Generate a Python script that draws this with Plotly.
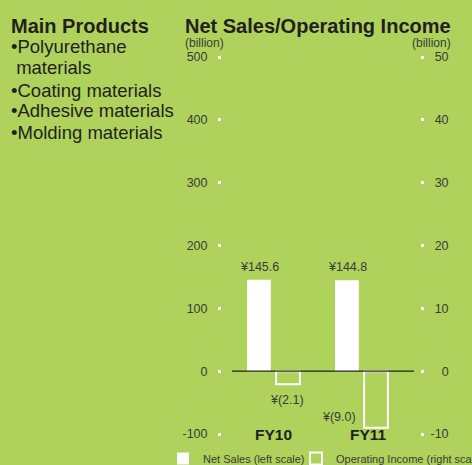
import plotly.graph_objects as go

# ---- data ----
categories = ["FY10", "FY11"]
net_sales = [145.6, 144.8]          # left scale (billion yen)
operating_income = [-2.1, -9.0]     # right scale (billion yen)
left_ticks = [-100, 0, 100, 200, 300, 400, 500]
right_ticks = [-10, 0, 10, 20, 30, 40, 50]
products_title = "Main Products"
products = ["•Polyurethane", "\u00a0materials", "•Coating materials",
            "•Adhesive materials", "•Molding materials"]
chart_title = "Net Sales/Operating Income"
unit_label = "(billion)"
series_names = ["Net Sales (left scale)", "Operating Income (right scale)"]

# ---- layout geometry (pixels) ----
FW, FH = 472, 465
L, R, T, B = 222, 420, 57, 434
PW, PH = R - L, B - T


def fx(px):
    return (px - L) / PW


def fy(py):
    return (B - py) / PH


BG = "#AED25C"
DARK = "#231F20"
GREY = "#3A3A3A"
FONT = "Liberation Sans, Arial, Helvetica, sans-serif"

# tick texts (plain hyphen minus); right labels padded invisibly to right-align
left_text = [str(v) for v in left_ticks]
r_labels = [str(v) for v in right_ticks]
widest = max(r_labels, key=len)
right_text = [f'<span style="color:{BG}">{widest[:len(widest) - len(s)]}</span>{s}'
              if len(s) < len(widest) else s for s in r_labels]

fig = go.Figure()

fig.add_trace(go.Bar(
    x=categories, y=net_sales, name=series_names[0],
    offset=-0.30, width=0.27,
    marker=dict(color="#FFFFFF", line=dict(width=0)),
    yaxis="y", hoverinfo="skip", legend="legend",
))
fig.add_trace(go.Bar(
    x=categories, y=operating_income, name=series_names[1],
    offset=0.03, width=0.27,
    marker=dict(color="rgba(0,0,0,0)", line=dict(color="#FFFFFF", width=2)),
    yaxis="y2", hoverinfo="skip", legend="legend2",
))

annotations = []
# value labels
for c, v in zip(categories, net_sales):
    annotations.append(dict(x=c, y=v, xref="x", yref="y", text=f"¥{v:.1f}",
                            showarrow=False, xanchor="center", yanchor="bottom",
                            xshift=-14, yshift=4,
                            font=dict(family=FONT, size=12.5, color=GREY)))
oi_pos = [dict(xanchor="center", yanchor="top", xshift=14, yshift=-7),
          dict(xanchor="right", yanchor="middle", xshift=-3, yshift=11)]
for c, v, p in zip(categories, operating_income, oi_pos):
    annotations.append(dict(x=c, y=v, xref="x", yref="y2", text=f"¥({abs(v):.1f})",
                            showarrow=False, **p,
                            font=dict(family=FONT, size=12.5, color=GREY)))
# category labels
for c, xs in zip(categories, [0, 7]):
    annotations.append(dict(x=c, y=left_ticks[0], xref="x", yref="y", text=f"<b>{c}</b>",
                            showarrow=False, xanchor="center", yanchor="middle", xshift=xs,
                            font=dict(family=FONT, size=15.5, color=DARK)))
# titles
annotations.append(dict(x=fx(9), y=fy(25.5), xref="paper", yref="paper",
                        text=f"<b>{products_title}</b>", showarrow=False,
                        xanchor="left", yanchor="middle",
                        font=dict(family=FONT, size=20, color=DARK)))
annotations.append(dict(x=fx(183), y=fy(25.5), xref="paper", yref="paper",
                        text=f"<b>{chart_title}</b>", showarrow=False,
                        xanchor="left", yanchor="middle",
                        font=dict(family=FONT, size=20, color=DARK)))
for txt, py in zip(products, [46.5, 67.5, 90, 110.5, 132]):
    annotations.append(dict(x=fx(9), y=fy(py), xref="paper", yref="paper",
                            text=txt, showarrow=False, xanchor="left", yanchor="middle",
                            font=dict(family=FONT, size=18.5, color=DARK)))
annotations.append(dict(x=fx(183), y=fy(43), xref="paper", yref="paper",
                        text=unit_label, showarrow=False, xanchor="left", yanchor="middle",
                        font=dict(family=FONT, size=12, color=GREY)))
annotations.append(dict(x=fx(453), y=fy(43), xref="paper", yref="paper",
                        text=unit_label, showarrow=False, xanchor="right", yanchor="middle",
                        font=dict(family=FONT, size=12, color=GREY)))

legend_common = dict(orientation="h", xanchor="left", y=fy(444), yanchor="top",
                     font=dict(family=FONT, size=11, color=GREY),
                     bgcolor="rgba(0,0,0,0)", itemwidth=30,
                     itemclick=False, itemdoubleclick=False)

fig.update_layout(
    width=FW, height=FH,
    margin=dict(l=L, r=FW - R, t=T, b=FH - B, pad=0, autoexpand=False),
    paper_bgcolor=BG, plot_bgcolor=BG,
    barmode="overlay",
    showlegend=True,
    legend=dict(x=fx(163), **legend_common),
    legend2=dict(x=fx(296), **legend_common),
    xaxis=dict(type="category", range=[-0.585, 1.665], showticklabels=False,
               showgrid=False, zeroline=False, showline=False, ticks="", fixedrange=True),
    yaxis=dict(range=[left_ticks[0], left_ticks[-1]], tickvals=left_ticks, ticktext=left_text,
               showgrid=False, zeroline=False, showline=False,
               ticks="outside", ticklen=3, tickwidth=3, tickcolor="#FFFFFF",
               ticklabelstandoff=8,
               tickfont=dict(family=FONT, size=12.5, color=GREY), fixedrange=True),
    yaxis2=dict(range=[right_ticks[0], right_ticks[-1]], tickvals=right_ticks,
                ticktext=right_text,
                overlaying="y", side="right",
                showgrid=False, zeroline=False, showline=False,
                ticks="outside", ticklen=3, tickwidth=3, tickcolor="#FFFFFF",
                ticklabelstandoff=4,
                tickfont=dict(family=FONT, size=12.5, color=GREY), fixedrange=True),
    annotations=annotations,
    shapes=[dict(type="line", xref="x domain", yref="y", x0=0.05, x1=0.97, y0=0, y1=0,
                 line=dict(color="#222222", width=1.2), layer="above")],
    hovermode=False,
)

fig.write_html("out.html", config=dict(displayModeBar=False),
               post_script="document.body.style.margin='0';"
                           "document.body.style.overflow='hidden';")
